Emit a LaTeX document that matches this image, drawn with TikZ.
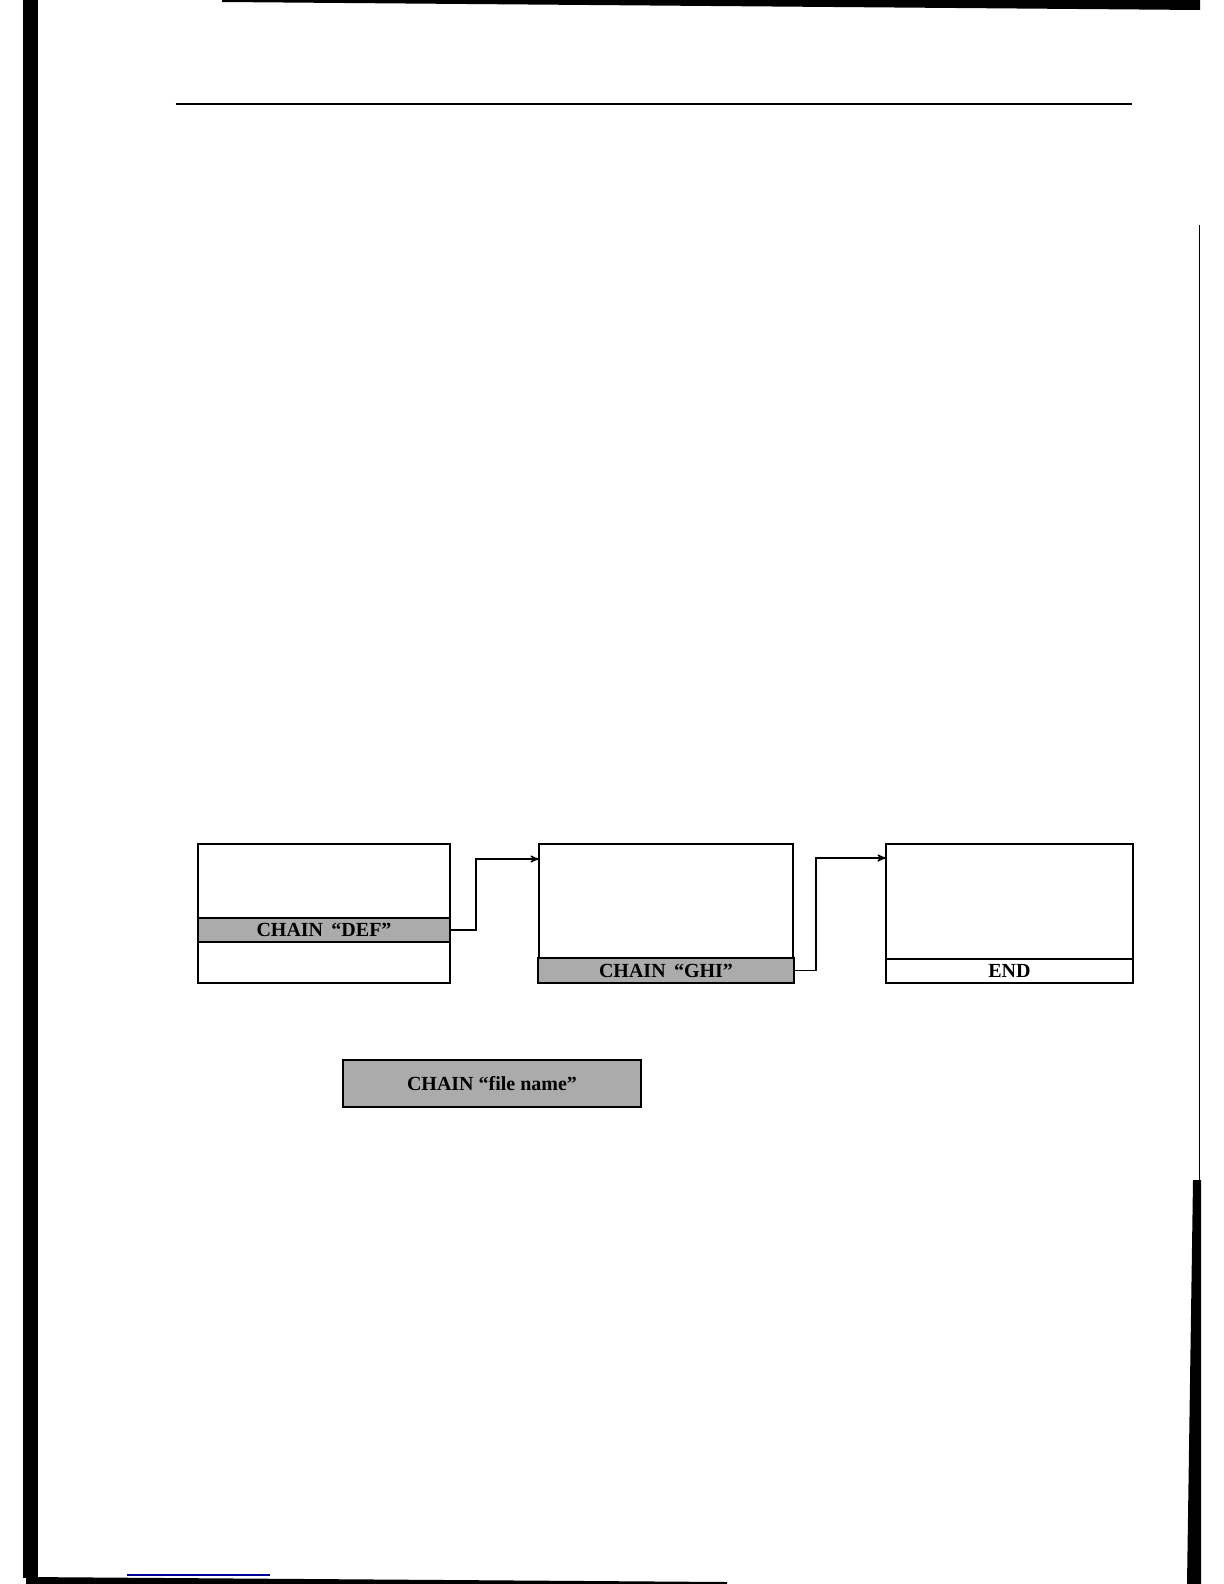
\documentclass[tikz,border=0pt]{standalone}
\usepackage{fontspec}
\setmainfont{Liberation Serif}
\usepackage{tikz}
\usetikzlibrary{arrows,calc}

\begin{document}
\begin{tikzpicture}[x=0.5pt,y=-0.5pt,>=stealth',line width=0.6pt,
                    font=\fontsize{10}{12}\selectfont\bfseries]
  \tikzstyle{record}=[rectangle,draw=black,fill=white,inner sep=0pt,outer sep=0pt,
                      minimum width=126pt]
  \tikzstyle{chain}=[record,fill=black!33]
  \tikzstyle{scan}=[fill=black,draw=none]

  \useasboundingbox (0,0) rectangle (1224,1584);

  % scanner edges
  \fill[scan] (23,0) rectangle (38,1578);
  \fill[scan] (222,0) -- (1200,0) -- (1200,10) -- (222,2) -- cycle;
  \fill[scan] (26,1577) -- (727,1582) -- (727,1584) -- (26,1584) -- cycle;
  \draw[line width=0.5pt] (1199,225) -- (1199,1180);
  \fill[scan] (1193,1180) -- (1201,1180) -- (1201,1584) -- (1187,1584) -- cycle;
  \draw[blue!60!black,line width=1pt] (127,1575) -- (270,1575);

  % header rule
  \node[inner sep=0pt] (hl) at (174,104) {};
  \node[inner sep=0pt] (hr) at (1134,104) {};
  \draw (hl) -- (hr);

  \node[record,minimum height=69.5pt] (DEF)    at (324,913.5)  {};
  \node[chain,minimum height=12pt]    (DEFc)   at (324,930)    {CHAIN \,“DEF”};

  \node[record,minimum width=127pt,minimum height=69.5pt] (GHI)  at (666,913.5) {};
  \node[chain,minimum width=128pt,minimum height=12.5pt]  (GHIc) at (666,970.5) {CHAIN \,“GHI”};

  \node[record,minimum width=123.5pt,minimum height=69.5pt] (EOF)  at (1009.5,913.5) {};
  \node[record,minimum width=123.5pt,minimum height=12pt]   (EOFc) at (1009.5,971)   {END};

  \node[chain,minimum width=149pt,minimum height=23.5pt] (FN) at (492,1083.5) {CHAIN “file name”};

  \draw[->] (DEFc.east) -- ++(13pt,0) |- ([yshift=-7.5pt]GHI.north west);
  \draw[->] (GHIc.east) -- ++(11pt,0) |- ([yshift=-7pt]EOF.north west);
\end{tikzpicture}
\end{document}
